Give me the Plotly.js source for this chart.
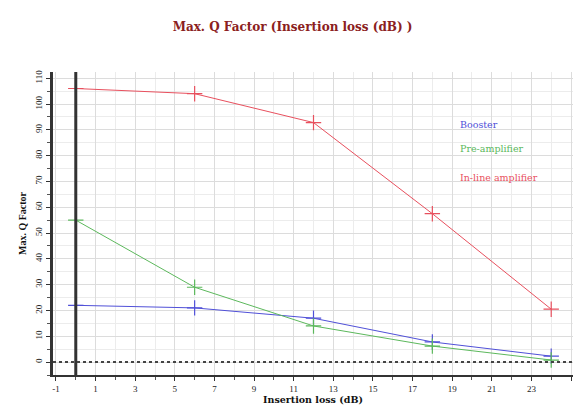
<!DOCTYPE html>
<html>
<head>
<meta charset="utf-8">
<script src="https://cdn.plot.ly/plotly-3.0.1.min.js"></script>
<style>html,body{margin:0;padding:0;background:#fff}#chart{width:576px;height:405px}</style>
</head>
<body>
<div id="chart"></div>
<script>
var insertionLoss = [0, 6, 12, 18, 24];
var booster = [22, 21, 17, 7.8, 2.3];
var preAmplifier = [55, 29, 14, 6.2, 0.8];
var inLineAmplifier = [106, 104, 92.8, 57.5, 20.5];
var seriesNames = ["Booster", "Pre-amplifier", "In-line amplifier"];
var seriesColors = ["#5050d8", "#5cb85c", "#e8505e"];
var xTicks = [-1, 1, 3, 5, 7, 9, 11, 13, 15, 17, 19, 21, 23, 25];
var yTicks = [0, 10, 20, 30, 40, 50, 60, 70, 80, 90, 100, 110];

var serif = "Liberation Serif, DejaVu Serif, serif";
var wideSerif = "DejaVu Serif, Liberation Serif, serif";
var allSeries = [booster, preAmplifier, inLineAmplifier];
var traces = allSeries.map(function (ys, i) {
  return {
    x: insertionLoss, y: ys, name: seriesNames[i], type: "scatter", mode: "lines+markers",
    line: {color: seriesColors[i], width: 1},
    marker: {symbol: "cross-thin-open", size: 11, line: {color: seriesColors[i], width: 1.2}},
    showlegend: false
  };
});

var legendY = [92.2, 82.6, 71.7];
var annotations = seriesNames.map(function (n, i) {
  return {x: 19.3, y: legendY[i], xref: "x", yref: "y", text: n, showarrow: false,
    xanchor: "left", yanchor: "middle", font: {family: wideSerif, size: 9.5, color: seriesColors[i]}};
});

var layout = {
  width: 576, height: 405,
  margin: {l: 53, r: 3, t: 72, b: 30},
  paper_bgcolor: "#fff", plot_bgcolor: "#fff",
  title: {text: "<b>Max. Q Factor (Insertion loss (dB) )</b>", x: 0.508, xanchor: "center", y: 0.935, yanchor: "middle",
    font: {family: wideSerif, size: 12, color: "#8b2020"}},
  xaxis: {
    range: [-1.15, 25.1], tickvals: xTicks, ticktext: xTicks.map(String),
    showgrid: true, gridcolor: "#dcdcdc", gridwidth: 1,
    minor: {dtick: 1, tick0: 0, showgrid: true, gridcolor: "#ececec", ticks: "outside", ticklen: 3, tickcolor: "#555"},
    ticks: "outside", ticklen: 4, tickcolor: "#333",
    showline: true, linecolor: "#333", linewidth: 2, zeroline: false,
    tickfont: {family: serif, size: 9, color: "#222"},
    title: {text: "<b>Insertion loss (dB)</b>", standoff: 3, font: {family: wideSerif, size: 9.5, color: "#111"}}
  },
  yaxis: {
    range: [-5, 112.4], tickvals: yTicks, ticktext: yTicks.map(String), tickangle: -90,
    showgrid: true, gridcolor: "#dcdcdc", gridwidth: 1,
    minor: {dtick: 5, tick0: 0, showgrid: true, gridcolor: "#ececec", ticks: "outside", ticklen: 3, tickcolor: "#555"},
    ticks: "outside", ticklen: 4, tickcolor: "#333",
    showline: true, linecolor: "#333", linewidth: 3, zeroline: false,
    tickfont: {family: serif, size: 9, color: "#222"},
    title: {text: "<b>Max. Q Factor</b>", standoff: 6, font: {family: serif, size: 10, color: "#111"}}
  },
  shapes: [
    {type: "line", xref: "x", yref: "paper", x0: 0, x1: 0, y0: 0, y1: 1, line: {color: "#333", width: 3}},
    {type: "line", xref: "paper", yref: "y", x0: 0, x1: 1, y0: 0, y1: 0, line: {color: "#444", width: 2, dash: "dot"}}
  ],
  annotations: annotations
};

Plotly.newPlot("chart", traces, layout, {displayModeBar: false, staticPlot: true});
</script>
</body>
</html>
